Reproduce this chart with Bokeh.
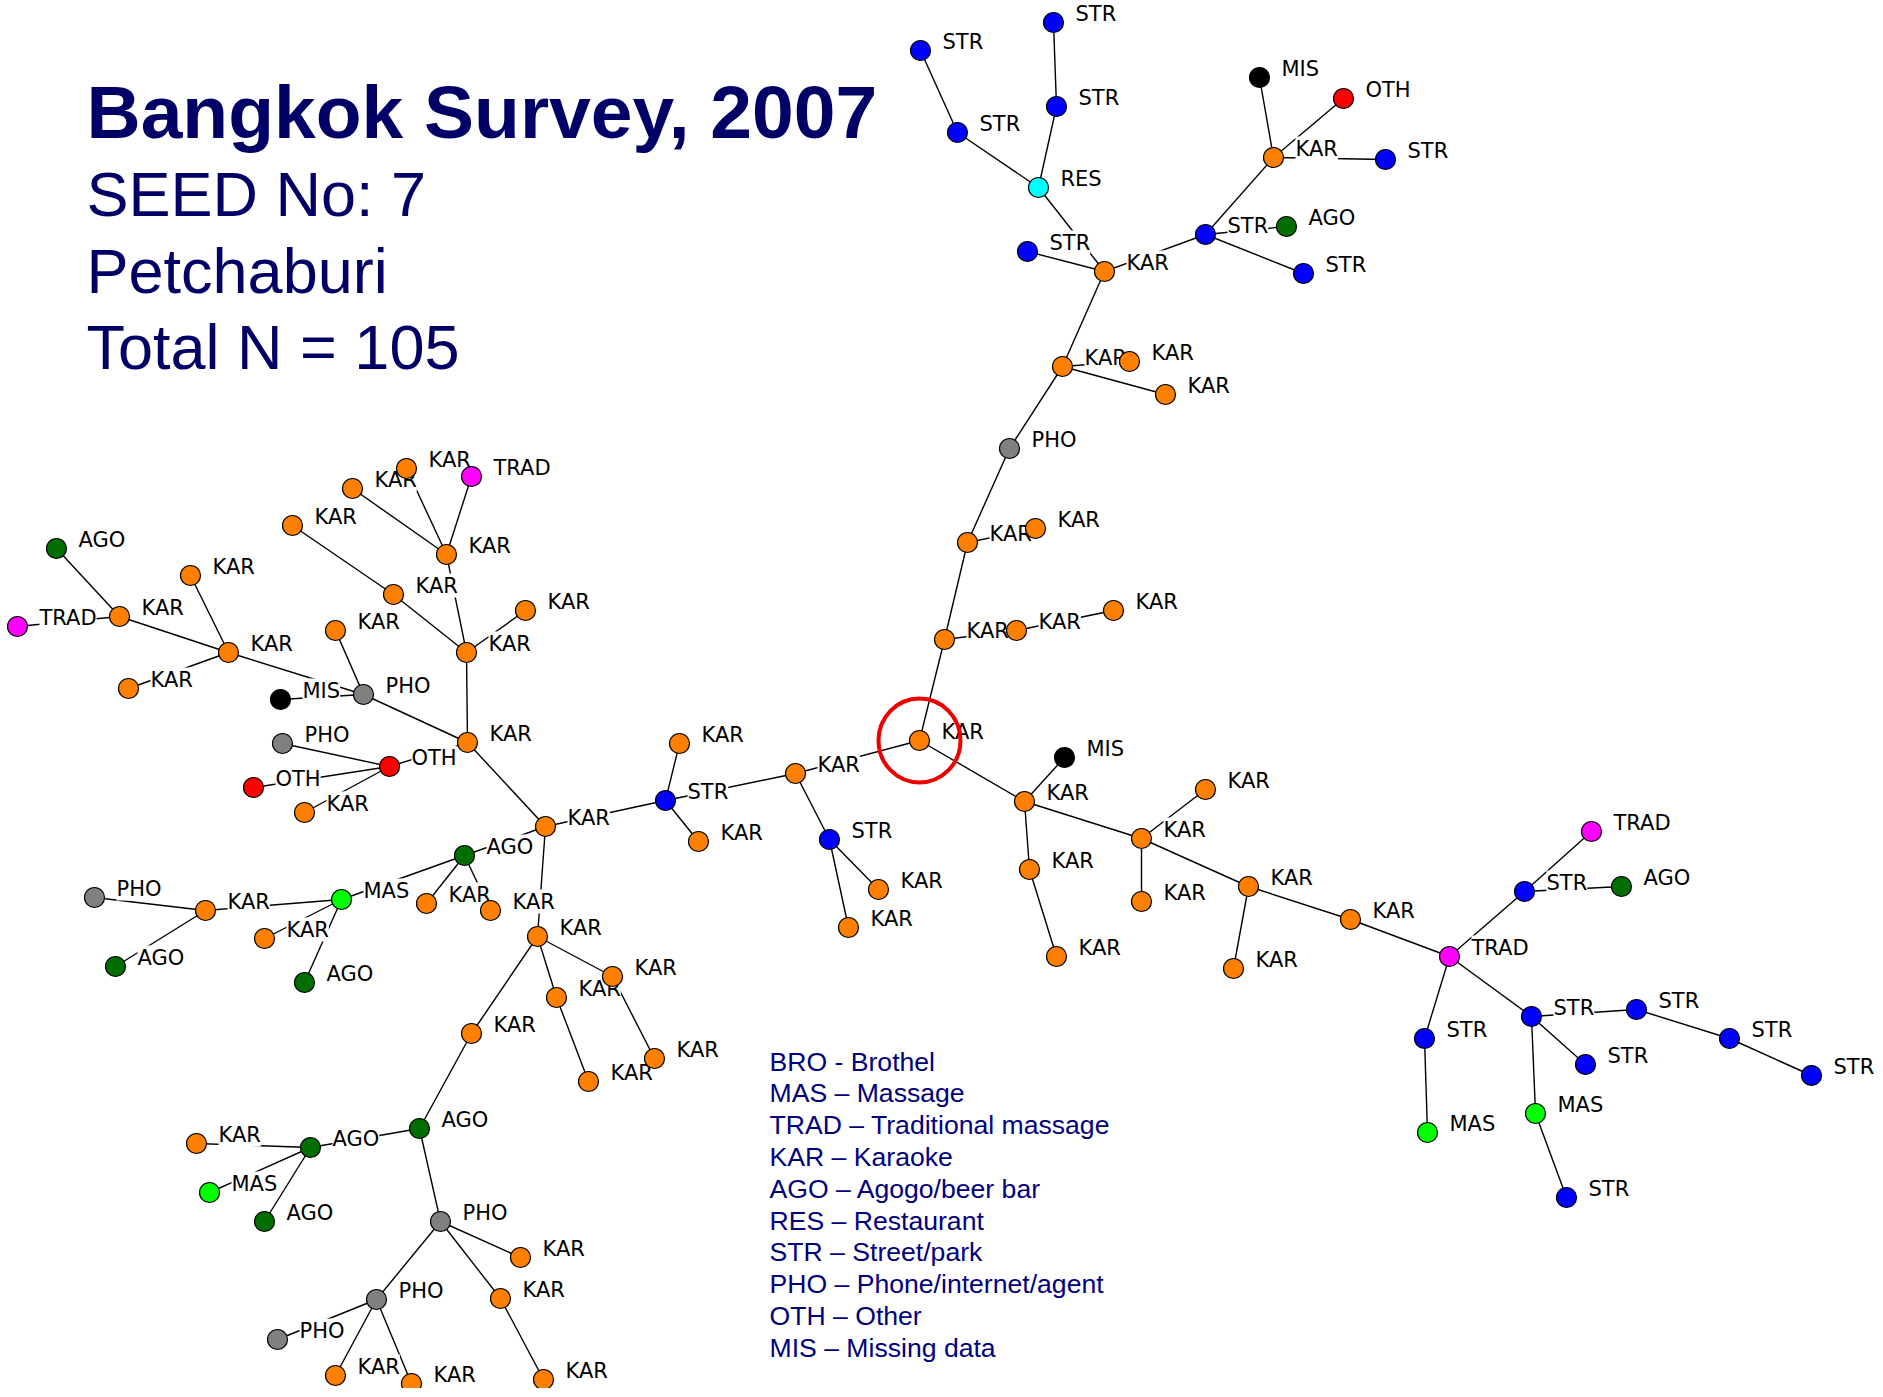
from bokeh.plotting import figure
from bokeh.models import Range1d, ColumnDataSource, LabelSet, Label
from bokeh.core.properties import value
from bokeh.embed import file_html
from bokeh.resources import INLINE

# ---------------- data ----------------
title_line = "Bangkok Survey, 2007"
info_lines = ["SEED No: 7", "Petchaburi", "Total N = 105"]

legend_lines = ["BRO - Brothel", "MAS – Massage", "TRAD – Traditional massage",
                "KAR – Karaoke", "AGO – Agogo/beer bar", "RES – Restaurant",
                "STR – Street/park", "PHO – Phone/internet/agent", "OTH – Other",
                "MIS – Missing data"]

# venue type of each recruit (node 1..105)
node_type = ["STR", "STR", "STR", "STR", "RES", "STR", "KAR", "MIS", "OTH", "KAR",
             "STR", "STR", "AGO", "STR", "KAR", "KAR", "KAR", "PHO", "KAR", "KAR",
             "KAR", "KAR", "KAR", "KAR", "MIS", "KAR", "KAR", "KAR", "KAR", "KAR",
             "KAR", "KAR", "KAR", "KAR", "TRAD", "STR", "TRAD", "AGO", "STR", "MAS",
             "STR", "STR", "MAS", "STR", "STR", "STR", "STR",
             "KAR", "STR", "KAR", "KAR", "STR", "KAR", "KAR", "KAR", "KAR", "PHO",
             "MIS", "KAR", "KAR", "KAR", "KAR", "KAR", "KAR", "KAR", "KAR", "TRAD",
             "OTH", "PHO", "OTH", "KAR", "KAR", "KAR", "KAR", "AGO", "TRAD", "KAR",
             "AGO", "KAR", "KAR", "MAS", "KAR", "PHO", "AGO", "KAR", "AGO", "KAR",
             "KAR", "KAR", "KAR", "KAR", "KAR", "AGO", "AGO", "KAR", "MAS", "AGO",
             "PHO", "KAR", "KAR", "KAR", "PHO", "PHO", "KAR", "KAR"]

# layout coordinates of each node (reference pixel space)
node_x = [920, 1053, 957, 1056, 1038, 1027, 1104, 1259, 1343, 1273,
          1385, 1205, 1286, 1303, 1062, 1129, 1165, 1009, 967, 1035,
          944, 1016, 1113, 919, 1064, 1024, 1205, 1141, 1029, 1056,
          1141, 1248, 1233, 1350, 1449, 1524, 1591, 1621, 1424, 1427,
          1531, 1585, 1535, 1566, 1636, 1729, 1811,
          795, 665, 679, 698, 829, 878, 848, 545, 467, 363,
          280, 335, 466, 525, 393, 292, 446, 352, 406, 471,
          389, 282, 253, 304, 228, 190, 119, 56, 17, 128,
          464, 426, 490, 341, 205, 94, 115, 264, 304, 537,
          612, 556, 588, 654, 471, 419, 310, 196, 209, 264,
          440, 520, 500, 543, 376, 277, 335, 411]
node_y = [50, 22, 132, 106, 187, 251, 271, 77, 98, 157,
          159, 234, 226, 273, 366, 361, 394, 448, 542, 528,
          639, 630, 610, 740, 757, 801, 789, 838, 869, 956,
          901, 886, 968, 919, 956, 891, 831, 886, 1038, 1132,
          1016, 1064, 1113, 1197, 1009, 1038, 1075,
          773, 800, 743, 841, 839, 889, 927, 826, 742, 694,
          699, 630, 652, 610, 594, 525, 554, 488, 468, 476,
          766, 743, 787, 812, 652, 575, 616, 548, 626, 688,
          855, 903, 910, 899, 910, 897, 966, 938, 982, 936,
          976, 997, 1081, 1058, 1033, 1128, 1147, 1143, 1192, 1221,
          1221, 1257, 1298, 1379, 1299, 1339, 1375, 1383]

# recruitment links (1-based node numbers)
edges = [(1, 3), (2, 4), (3, 5), (4, 5), (5, 7), (6, 7), (7, 12), (12, 10), (12, 13), (12, 14),
         (10, 8), (10, 9), (10, 11), (7, 15), (15, 16), (15, 17), (15, 18), (18, 19), (19, 20),
         (19, 21), (21, 22), (22, 23), (21, 24), (24, 48), (24, 26), (26, 25), (26, 28), (26, 29),
         (29, 30), (28, 27), (28, 31), (28, 32), (32, 33), (32, 34), (34, 35), (35, 36), (36, 37),
         (36, 38), (35, 39), (39, 40), (35, 41), (41, 42), (41, 43), (43, 44), (41, 45), (45, 46),
         (46, 47),
         (48, 49), (48, 52), (52, 53), (52, 54), (49, 50), (49, 51), (49, 55), (55, 56), (56, 57),
         (57, 58), (57, 59), (56, 60), (60, 61), (60, 62), (62, 63), (60, 64), (64, 65), (64, 66),
         (64, 67), (56, 68), (68, 69), (68, 70), (68, 71), (72, 74), (72, 73), (72, 77), (72, 57),
         (74, 75), (74, 76), (55, 87), (55, 78), (78, 79), (78, 80), (78, 81), (81, 82), (81, 85),
         (81, 86), (82, 83), (82, 84), (87, 88), (87, 89), (87, 92), (89, 90), (88, 91), (92, 93),
         (93, 94), (93, 98), (94, 95), (94, 96), (94, 97), (98, 99), (98, 100), (98, 102),
         (100, 101), (102, 103), (102, 104), (102, 105)]

seed_node = 24

# ---------------- styles ----------------
type_colors = {"KAR": "#FF8000", "STR": "#0000FF", "RES": "#00FFFF", "MIS": "#000000",
               "OTH": "#FF0000", "AGO": "#006E00", "PHO": "#808080", "TRAD": "#FF00FF",
               "MAS": "#00FF00", "BRO": "#800000"}
TITLE_COLOR = "#000066"
LEGEND_COLOR = "#000080"

W, H = 1880, 1388
p = figure(width=W, height=H, x_range=Range1d(0, W), y_range=Range1d(H, 0),
           output_backend="svg", toolbar_location=None, min_border=0)
p.axis.visible = False
p.grid.visible = False
p.outline_line_color = None
p.background_fill_color = "white"

# edges
x0 = [node_x[a - 1] for a, b in edges]
y0 = [node_y[a - 1] for a, b in edges]
x1 = [node_x[b - 1] for a, b in edges]
y1 = [node_y[b - 1] for a, b in edges]
p.segment(x0=x0, y0=y0, x1=x1, y1=y1, line_color="black", line_width=1.4)

# node labels (white boxes hide the links underneath, as in the original)
lab_src = ColumnDataSource(dict(x=node_x, y=node_y, text=node_type))
labels = LabelSet(x="x", y="y", text="text", source=lab_src, x_offset=22, y_offset=9,
                  text_font=value("DejaVu Sans"), text_font_size="21px",
                  text_color="black", text_align="left", text_baseline="middle",
                  background_fill_color="white")
p.add_layout(labels)

# nodes
src = ColumnDataSource(dict(x=node_x, y=node_y, t=node_type,
                            c=[type_colors[t] for t in node_type]))
r = p.scatter("x", "y", source=src, size=20, marker="circle", fill_color="c",
              line_color="black", line_width=1.2)
r.level = "overlay"

# seed marker
rs = p.ellipse(x=[node_x[seed_node - 1]], y=[node_y[seed_node - 1]], width=82, height=84,
               fill_color=None, line_color="#EE0000", line_width=4)
rs.level = "overlay"

# title block
p.add_layout(Label(x=86, y=111, text=title_line, text_font="Liberation Sans",
                   text_font_style="bold", text_font_size="75px", text_color=TITLE_COLOR,
                   text_baseline="alphabetic"))
info_baselines = [193, 270, 346]
for t, yb in zip(info_lines, info_baselines):
    p.add_layout(Label(x=86, y=yb, text=t, text_font="Liberation Sans",
                       text_font_size="63px", text_color=TITLE_COLOR,
                       text_baseline="alphabetic"))

# legend text
for i, t in enumerate(legend_lines):
    p.add_layout(Label(x=769, y=1061 + i * 31.8, text=t, text_font="Liberation Sans",
                       text_font_size="26.6px", text_color=LEGEND_COLOR,
                       text_baseline="alphabetic"))

open("out.html", "w").write(file_html(p, INLINE))
